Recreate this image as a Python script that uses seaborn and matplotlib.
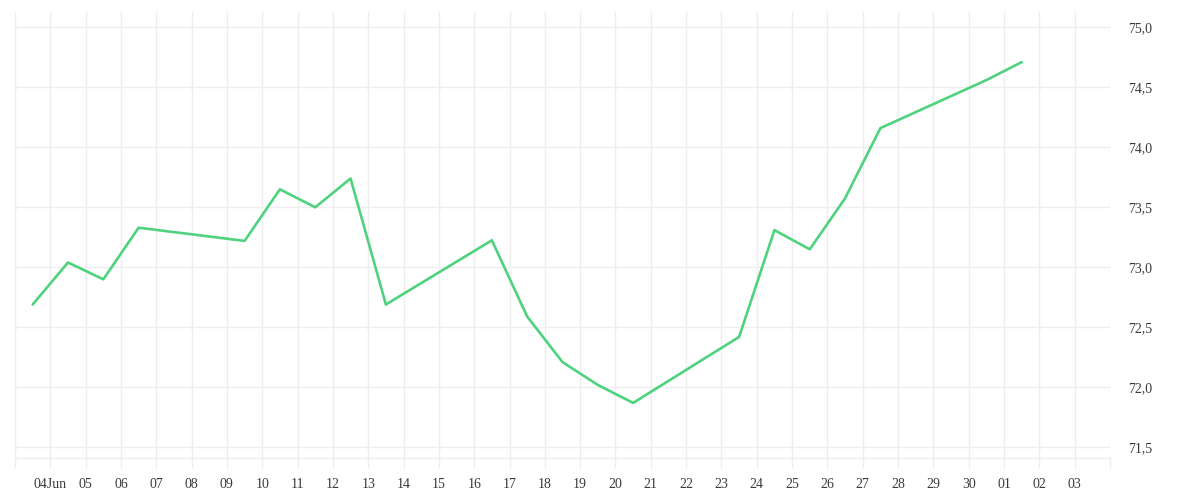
import matplotlib
matplotlib.use("Agg")
import matplotlib.pyplot as plt
import seaborn as sns
import pandas as pd
import numpy as np

# ---- data ----
dates = ["2024-06-04", "2024-06-05", "2024-06-06", "2024-06-07",
         "2024-06-10", "2024-06-11", "2024-06-12", "2024-06-13", "2024-06-14",
         "2024-06-17", "2024-06-18", "2024-06-19", "2024-06-20", "2024-06-21",
         "2024-06-24", "2024-06-25", "2024-06-26", "2024-06-27", "2024-06-28",
         "2024-07-01", "2024-07-02"]
values = [72.69, 73.04, 72.90, 73.33,
          73.22, 73.65, 73.50, 73.74, 72.69,
          73.225, 72.59, 72.21, 72.02, 71.87,
          72.42, 73.31, 73.15, 73.575, 74.16,
          74.56, 74.71]

tick_days = ["2024-06-03", "2024-06-04", "2024-06-05", "2024-06-06", "2024-06-07",
             "2024-06-08", "2024-06-09", "2024-06-10", "2024-06-11", "2024-06-12",
             "2024-06-13", "2024-06-14", "2024-06-15", "2024-06-16", "2024-06-17",
             "2024-06-18", "2024-06-19", "2024-06-20", "2024-06-21", "2024-06-22",
             "2024-06-23", "2024-06-24", "2024-06-25", "2024-06-26", "2024-06-27",
             "2024-06-28", "2024-06-29", "2024-06-30", "2024-07-01", "2024-07-02",
             "2024-07-03", "2024-07-04"]
tick_labels = ["", "04Jun", "05", "06", "07", "08", "09", "10", "11", "12",
               "13", "14", "15", "16", "17", "18", "19", "20", "21", "22",
               "23", "24", "25", "26", "27", "28", "29", "30", "01", "02",
               "03", ""]

y_ticks = [71.5, 72.0, 72.5, 73.0, 73.5, 74.0, 74.5, 75.0]
y_tick_labels = ["71,5", "72,0", "72,5", "73,0", "73,5", "74,0", "74,5", "75,0"]

df = pd.DataFrame({"date": pd.to_datetime(dates), "value": values})

sns.set_theme(style="white")
plt.rcParams["font.family"] = ["Liberation Serif", "DejaVu Serif"]

grid_color = "#eeeeee"
text_color = "#3a3a3a"
line_color = "#4fd27e"

fig = plt.figure(figsize=(12, 5), dpi=100)
ax = fig.add_axes([15 / 1200, 42 / 500, 1095 / 1200, 446 / 500])

sns.lineplot(data=df, x="date", y="value", ax=ax, color=line_color,
             linewidth=1.9, legend=False)

tick_pos = pd.to_datetime(tick_days) + pd.Timedelta(hours=12)
ax.set_xticks(tick_pos)
ax.set_xticklabels(tick_labels)
ax.set_xlim(tick_pos[0], tick_pos[-1])

ax.set_ylim(71.411, 75.1275)
ax.set_yticks(y_ticks)
ax.set_yticklabels(y_tick_labels)
ax.yaxis.tick_right()

ax.set_xlabel("")
ax.set_ylabel("")

ax.grid(True, color=grid_color, linewidth=1.0)
ax.set_axisbelow(True)

for side in ["top", "left", "right"]:
    ax.spines[side].set_visible(False)
ax.spines["bottom"].set_color(grid_color)
ax.spines["bottom"].set_linewidth(1.0)

ax.tick_params(axis="x", which="both", bottom=True, length=7.2, width=1.0,
               color=grid_color, labelcolor=text_color, labelsize=10, pad=7.5)
ax.tick_params(axis="y", which="both", right=True, left=False, length=0,
               labelcolor=text_color, labelsize=10, pad=13)

fig.savefig("out.png", dpi=100, facecolor="white")
